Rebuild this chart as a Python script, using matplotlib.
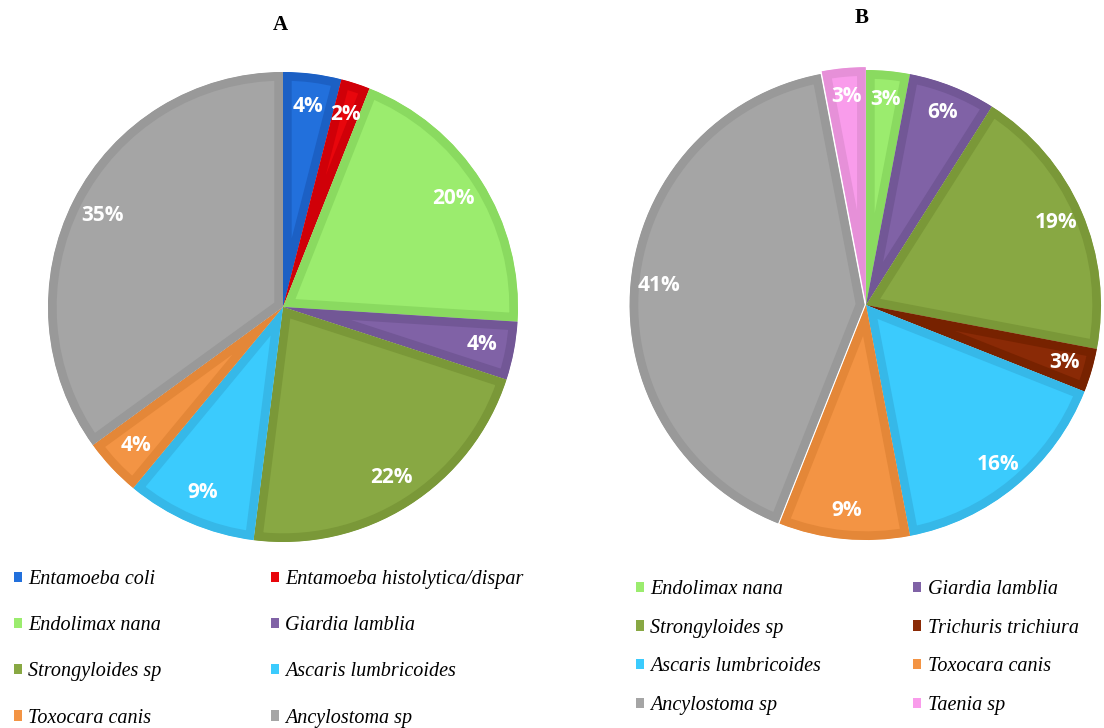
import matplotlib.pyplot as plt
from matplotlib.patches import Patch, Wedge

# panel A
labels_a = ["Entamoeba coli", "Entamoeba histolytica/dispar", "Endolimax nana",
            "Giardia lamblia", "Strongyloides sp", "Ascaris lumbricoides",
            "Toxocara canis", "Ancylostoma sp"]
pct_a = [4, 2, 20, 4, 22, 9, 4, 35]
fill_a = ["#2270DC", "#E8060C", "#9BEC6E", "#8062A6", "#88A843", "#3BCBFD", "#F39444", "#A5A5A5"]
edge_a = ["#1C60C4", "#D00008", "#8ADA60", "#725796", "#7A9838", "#36B8E8", "#E48738", "#999999"]

# panel B
labels_b = ["Endolimax nana", "Giardia lamblia", "Strongyloides sp", "Trichuris trichiura",
            "Ascaris lumbricoides", "Toxocara canis", "Ancylostoma sp", "Taenia sp"]
pct_b = [3, 6, 19, 3, 16, 9, 41, 3]
explode_b = [0, 0, 0, 0, 0, 0, 0.006, 0.012]
fill_b = ["#9BEC6E", "#8062A6", "#88A843", "#8A2A06", "#3BCBFD", "#F39444", "#A5A5A5", "#F99CEB"]
edge_b = ["#8ADA60", "#725796", "#7A9838", "#772200", "#36B8E8", "#E48738", "#999999", "#E690D8"]

W, H = 1104, 728
R = 235.0      # pie radius in px
LIM = 1.05


def pie_axes(fig, cx, cy):
    half = LIM * R
    return fig.add_axes([(cx - half) / W, (H - cy - half) / H, 2 * half / W, 2 * half / H])


def draw_pie(ax, vals, fills, edges, explode=None, pctd=0.87):
    wedges, _, texts = ax.pie(vals, colors=fills, startangle=90, counterclock=False,
                              explode=explode, autopct=lambda p: f"{p:.0f}%",
                              pctdistance=pctd,
                              wedgeprops=dict(linewidth=12.5),
                              textprops=dict(color="white", fontsize=15,
                                             fontweight="bold", family="Open Sans"))
    ax.set_xlim(-LIM, LIM); ax.set_ylim(-LIM, LIM)
    ax.set_aspect("auto")
    for w, ec in zip(wedges, edges):
        w.set_edgecolor(ec)
        # pie() turns clipping off; clip the stroke to the wedge -> inner border only
        clip = Wedge(w.center, w.r, w.theta1, w.theta2, transform=ax.transData)
        w.set_clip_on(True)
        w.set_clip_path(clip)
    return wedges, texts


fig = plt.figure(figsize=(W / 100, H / 100), dpi=100)

ax_a = pie_axes(fig, 283, 307)
draw_pie(ax_a, pct_a, fill_a, edge_a, pctd=0.86)
fig.text(280 / W, 1 - 25 / H, "A", ha="center", va="center", fontsize=15,
         fontweight="bold", family="Liberation Serif")

ax_b = pie_axes(fig, 866, 305)
draw_pie(ax_b, pct_b, fill_b, edge_b, explode=explode_b, pctd=0.88)
fig.text(862 / W, 1 - 18 / H, "B", ha="center", va="center", fontsize=15,
         fontweight="bold", family="Liberation Serif")

legend_font = dict(family="Liberation Serif", style="italic", size=14.5)


def add_legend(labels, fills, x, y, colspace, rowspace):
    order = [0, 2, 4, 6, 1, 3, 5, 7]
    handles = [Patch(facecolor=fills[i], edgecolor="none", label=labels[i]) for i in order]
    fig.legend(handles=handles, loc="upper left", bbox_to_anchor=(x / W, 1 - y / H),
               ncol=2, frameon=False, prop=legend_font, borderpad=0, borderaxespad=0,
               handlelength=0.42, handleheight=0.42, handletextpad=0.3,
               columnspacing=colspace, labelspacing=rowspace)


add_legend(labels_a, fill_a, 14, 570, 5.4, 1.35)
add_legend(labels_b, fill_b, 636, 580, 4.55, 0.98)

fig.savefig("out.png", dpi=100, facecolor="white")
